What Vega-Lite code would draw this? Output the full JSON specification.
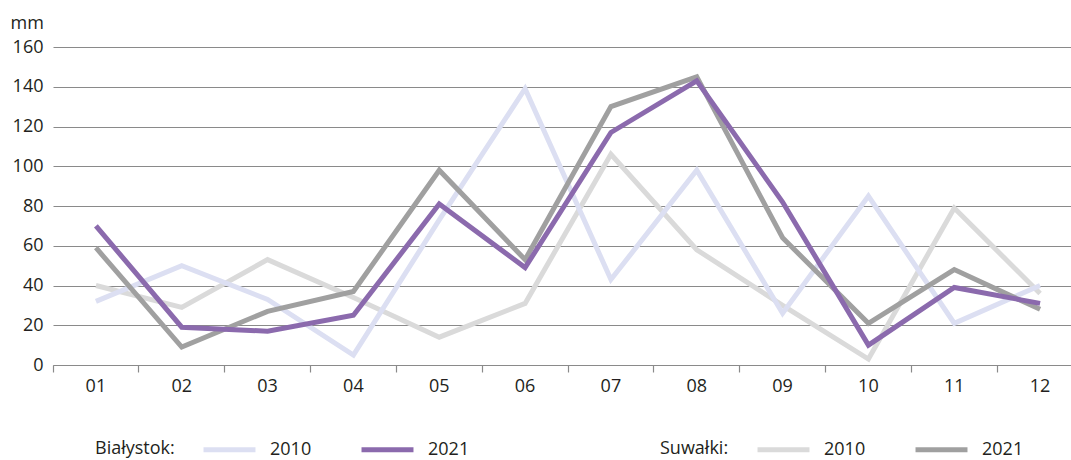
{
  "$schema": "https://vega.github.io/schema/vega-lite/v6.json",
  "autosize": "none",
  "width": 1030,
  "height": 318,
  "padding": {"left": 53, "top": 47, "right": 0, "bottom": 95},
  "background": "white",
  "config": {
    "font": "Open Sans",
    "view": {"stroke": null},
    "axis": {"labelFont": "Open Sans", "labelColor": "#231f20", "titleFont": "Open Sans"},
    "legend": {"labelFont": "Open Sans", "titleFont": "Open Sans"}
  },
  "data": {
    "values": [
      {"month": "01", "city": "Białystok", "year": "2010", "value": 32},
      {"month": "02", "city": "Białystok", "year": "2010", "value": 50},
      {"month": "03", "city": "Białystok", "year": "2010", "value": 33},
      {"month": "04", "city": "Białystok", "year": "2010", "value": 5},
      {"month": "05", "city": "Białystok", "year": "2010", "value": 73},
      {"month": "06", "city": "Białystok", "year": "2010", "value": 139},
      {"month": "07", "city": "Białystok", "year": "2010", "value": 43},
      {"month": "08", "city": "Białystok", "year": "2010", "value": 98},
      {"month": "09", "city": "Białystok", "year": "2010", "value": 26},
      {"month": "10", "city": "Białystok", "year": "2010", "value": 85},
      {"month": "11", "city": "Białystok", "year": "2010", "value": 21},
      {"month": "12", "city": "Białystok", "year": "2010", "value": 40},
      {"month": "01", "city": "Białystok", "year": "2021", "value": 70},
      {"month": "02", "city": "Białystok", "year": "2021", "value": 19},
      {"month": "03", "city": "Białystok", "year": "2021", "value": 17},
      {"month": "04", "city": "Białystok", "year": "2021", "value": 25},
      {"month": "05", "city": "Białystok", "year": "2021", "value": 81},
      {"month": "06", "city": "Białystok", "year": "2021", "value": 49},
      {"month": "07", "city": "Białystok", "year": "2021", "value": 117},
      {"month": "08", "city": "Białystok", "year": "2021", "value": 143},
      {"month": "09", "city": "Białystok", "year": "2021", "value": 82},
      {"month": "10", "city": "Białystok", "year": "2021", "value": 10},
      {"month": "11", "city": "Białystok", "year": "2021", "value": 39},
      {"month": "12", "city": "Białystok", "year": "2021", "value": 31},
      {"month": "01", "city": "Suwałki", "year": "2010", "value": 40},
      {"month": "02", "city": "Suwałki", "year": "2010", "value": 29},
      {"month": "03", "city": "Suwałki", "year": "2010", "value": 53},
      {"month": "04", "city": "Suwałki", "year": "2010", "value": 34},
      {"month": "05", "city": "Suwałki", "year": "2010", "value": 14},
      {"month": "06", "city": "Suwałki", "year": "2010", "value": 31},
      {"month": "07", "city": "Suwałki", "year": "2010", "value": 106},
      {"month": "08", "city": "Suwałki", "year": "2010", "value": 58},
      {"month": "09", "city": "Suwałki", "year": "2010", "value": 30},
      {"month": "10", "city": "Suwałki", "year": "2010", "value": 3},
      {"month": "11", "city": "Suwałki", "year": "2010", "value": 79},
      {"month": "12", "city": "Suwałki", "year": "2010", "value": 36},
      {"month": "01", "city": "Suwałki", "year": "2021", "value": 59},
      {"month": "02", "city": "Suwałki", "year": "2021", "value": 9},
      {"month": "03", "city": "Suwałki", "year": "2021", "value": 27},
      {"month": "04", "city": "Suwałki", "year": "2021", "value": 37},
      {"month": "05", "city": "Suwałki", "year": "2021", "value": 98},
      {"month": "06", "city": "Suwałki", "year": "2021", "value": 53},
      {"month": "07", "city": "Suwałki", "year": "2021", "value": 130},
      {"month": "08", "city": "Suwałki", "year": "2021", "value": 145},
      {"month": "09", "city": "Suwałki", "year": "2021", "value": 64},
      {"month": "10", "city": "Suwałki", "year": "2021", "value": 21},
      {"month": "11", "city": "Suwałki", "year": "2021", "value": 48},
      {"month": "12", "city": "Suwałki", "year": "2021", "value": 28}
    ]
  },
  "encoding": {
    "x": {
      "field": "month", "type": "ordinal",
      "scale": {"type": "band", "paddingInner": 0, "paddingOuter": 0},
      "axis": {
        "title": null, "labelAngle": 0, "bandPosition": 0,
        "domainColor": "#8a8a8a", "domainWidth": 1.2, "tickColor": "#8a8a8a", "tickSize": 7, "tickWidth": 1.2,
        "labelFontSize": 18, "labelPadding": 5, "labelBaseline": "top", "grid": false
      }
    },
    "y": {
      "field": "value", "type": "quantitative",
      "scale": {"domain": [0, 160], "nice": false},
      "axis": {
        "values": [0, 20, 40, 60, 80, 100, 120, 140, 160],
        "domain": false, "ticks": false, "grid": true, "gridColor": "#8a8a8a", "gridWidth": 1.2,
        "labelFontSize": 18, "labelPadding": 10,
        "title": "mm", "titleAngle": 0, "titleAlign": "left", "titleBaseline": "alphabetic",
        "titleX": -43, "titleY": -19, "titleFontSize": 18, "titleFontWeight": "normal", "titleColor": "#231f20"
      }
    }
  },
  "layer": [
    {
      "transform": [{"filter": "datum.city === 'Suwałki' && datum.year === '2010'"}],
      "mark": {"type": "line", "strokeWidth": 5, "strokeJoin": "miter"},
      "encoding": {
        "stroke": {
          "field": "year", "type": "nominal",
          "scale": {"range": ["#dadada", "#a0a0a0"]},
          "legend": {
            "title": "Suwałki:", "orient": "none", "legendX": 607, "legendY": 374, "direction": "horizontal",
            "titleOrient": "left", "titleAnchor": "middle", "titleBaseline": "top", "titleFontSize": 18, "titleFontWeight": "normal", "titleColor": "#231f20", "titlePadding": 26,
            "labelFontSize": 18, "labelColor": "#231f20", "labelOffset": 12, "columnPadding": 39,
            "symbolType": "stroke", "symbolSize": 2700, "symbolStrokeWidth": 5
          }
        }
      }
    },
    {
      "transform": [{"filter": "datum.city === 'Białystok' && datum.year === '2010'"}],
      "mark": {"type": "line", "strokeWidth": 5, "strokeJoin": "miter"},
      "encoding": {
        "color": {
          "field": "year", "type": "nominal",
          "scale": {"domain": ["2010", "2021"], "range": ["#dcdff2", "#8b6aad"]},
          "legend": {
            "title": "Białystok:", "orient": "none", "legendX": 42, "legendY": 374, "direction": "horizontal",
            "titleOrient": "left", "titleAnchor": "middle", "titleBaseline": "top", "titleFontSize": 18, "titleFontWeight": "normal", "titleColor": "#231f20", "titlePadding": 26,
            "labelFontSize": 18, "labelColor": "#231f20", "labelOffset": 12, "columnPadding": 39,
            "symbolType": "stroke", "symbolSize": 2700, "symbolStrokeWidth": 5
          }
        }
      }
    },
    {
      "transform": [{"filter": "datum.city === 'Suwałki' && datum.year === '2021'"}],
      "mark": {"type": "line", "strokeWidth": 5, "strokeJoin": "miter"},
      "encoding": {"stroke": {"field": "year", "type": "nominal"}}
    },
    {
      "transform": [{"filter": "datum.city === 'Białystok' && datum.year === '2021'"}],
      "mark": {"type": "line", "strokeWidth": 5, "strokeJoin": "miter"},
      "encoding": {"color": {"field": "year", "type": "nominal"}}
    }
  ]
}
